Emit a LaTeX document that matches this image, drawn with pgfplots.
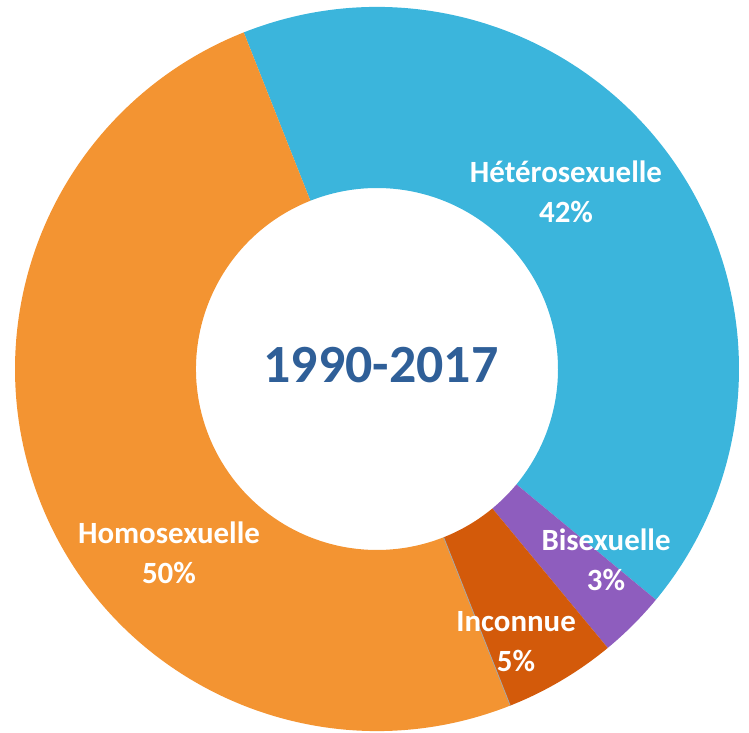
\documentclass[border=0pt]{standalone}
\usepackage{pgfplots}
\pgfplotsset{compat=1.18}
\usepackage{fontspec}
\setmainfont{Carlito}
\definecolor{hetero}{HTML}{3BB5DC}
\definecolor{bi}{HTML}{8E5DBE}
\definecolor{inconnue}{HTML}{D35A0A}
\definecolor{homo}{HTML}{F39432}
\definecolor{titre}{HTML}{2F5F98}

\begin{document}
\begin{tikzpicture}
\begin{axis}[
  x=1bp, y=1bp, disabledatascaling,
  xmin=0, xmax=749, ymin=0, ymax=733,
  scale only axis, hide axis, clip=false,
]
% donut: share (%), colour, start angle 111.6 deg, clockwise
\pgfplotsextra{
  \coordinate (ll) at (axis cs:0,0);
  \coordinate (ur) at (axis cs:749,733);
  \begin{scope}[shift={(axis cs:377,364)}]
    \foreach \v/\c [remember=\b as \a (initially 111.6)] in
        {42/hetero, 3/bi, 5/inconnue, 50/homo}{
      \pgfmathsetmacro\b{\a-3.6*\v}
      \fill[\c] (\a:362bp) arc[start angle=\a, end angle=\b, radius=362bp]
        -- (\b:181bp) arc[start angle=\b, end angle=\a, radius=181bp] -- cycle;
    }
    \draw[gray!70, line width=0.8pt] (-68.4:181bp) -- (-68.4:362bp);
  \end{scope}
  % labels
  \foreach \n/\p/\lx/\ly in {Hétérosexuelle/42/566/541,
      Homosexuelle/50/169/180, Bisexuelle/3/606/173, Inconnue/5/516/91}{
    \node[white, align=center, font=\bfseries\fontsize{31}{40}\selectfont]
      at (axis cs:\lx,\ly) {\n\\\p\%};
  }
  \node[titre, font=\bfseries\fontsize{54}{60}\selectfont]
    at (axis cs:381,368) {1990-2017};
}
\end{axis}
\pgfresetboundingbox
\path[use as bounding box] (ll) rectangle (ur);
\end{tikzpicture}
\end{document}
